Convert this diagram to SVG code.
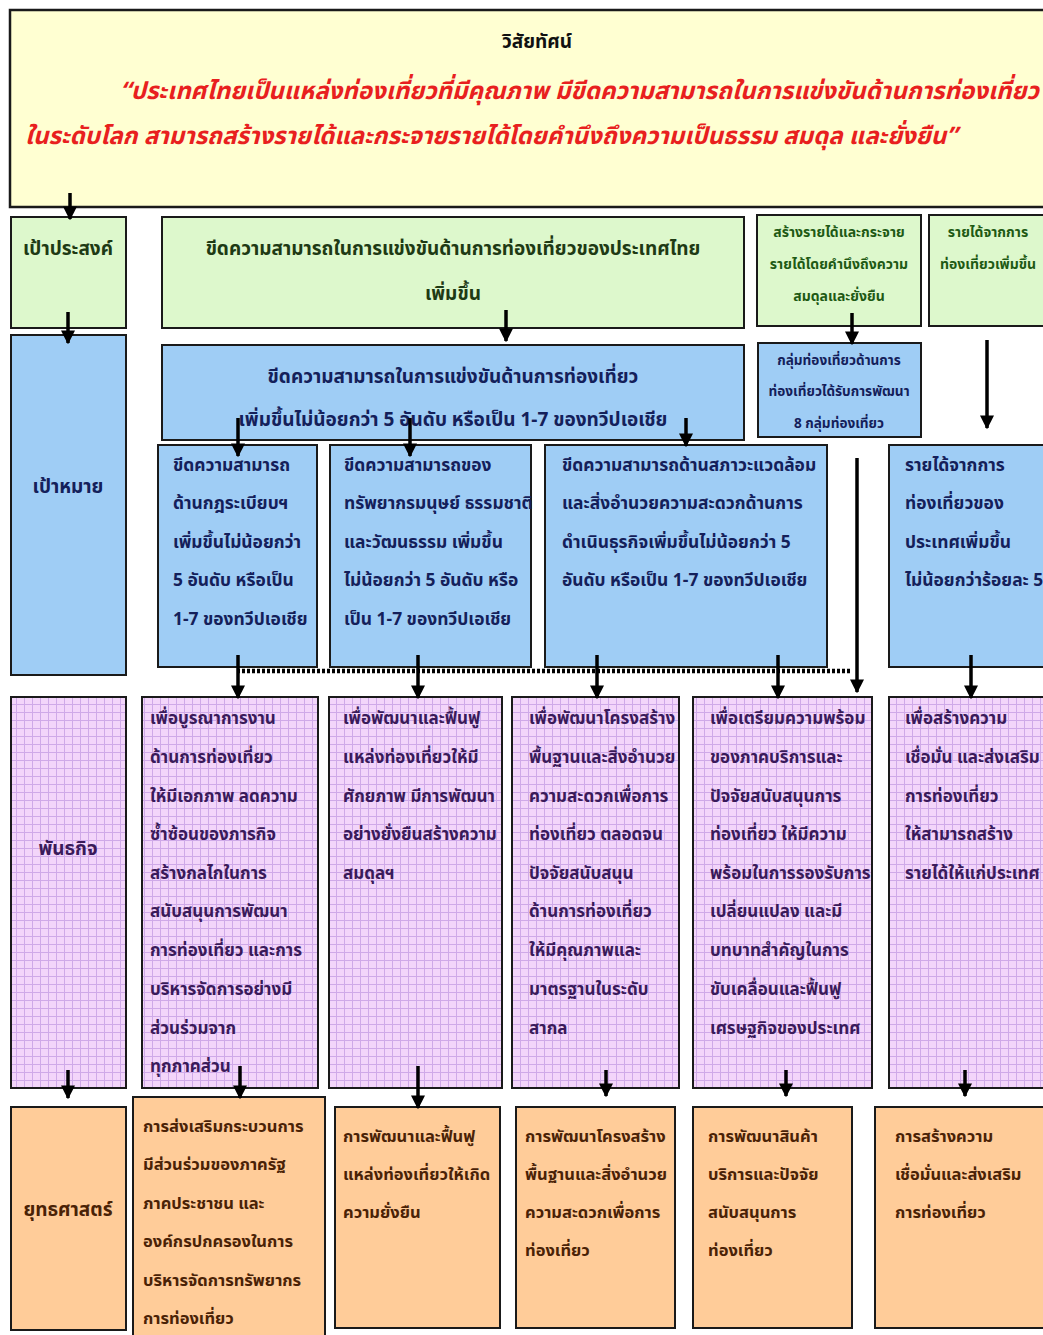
<svg xmlns="http://www.w3.org/2000/svg" width="1043" height="1335" viewBox="0 0 1043 1335">
<defs>
<pattern id="grid" width="8" height="8" patternUnits="userSpaceOnUse">
<rect width="8" height="8" fill="#F3D5FA"/>
<path d="M0 0.5H8M0.5 0V8" stroke="#CFA9E8" stroke-width="1" fill="none"/>
</pattern>
<marker id="ah" viewBox="0 0 10 10" refX="9" refY="5" markerWidth="4" markerHeight="4" orient="auto" markerUnits="strokeWidth">
<path d="M0 0L10 5L0 10z" fill="#000"/>
</marker>
</defs>
<style>
text{font-family:"Noto Sans Thai","Noto Sans","DejaVu Sans",sans-serif;font-weight:bold}
.box{stroke:#1a1a1a;stroke-width:2}
.y{fill:#FFFFD2}
.g{fill:#DDF8CC}
.b{fill:#9FCDF5}
.p{fill:url(#grid)}
.o{fill:#FFCC99}
.tg{fill:#1E3A14;font-size:19px}
.tgs{fill:#1E5A14;font-size:14px}
.tb{fill:#14205A;font-size:17.4px}
.tbs{fill:#14205A;font-size:13.6px}
.tp{fill:#3A1A5A;font-size:17px}
.to{fill:#4A2206;font-size:16.5px}
.vis{fill:#E8201E;font-size:24px;font-style:italic}
.arr{stroke:#000;stroke-width:3.5;fill:none;marker-end:url(#ah)}
.dash{stroke:#000;stroke-width:4.5;stroke-dasharray:3 2;fill:none}
</style>

<g id="vision">
<rect class="box y" x="10" y="10" width="1040" height="197" style="stroke-width:2.5"/>
<text x="537" y="48" text-anchor="middle" style="font-size:19px;fill:#111">วิสัยทัศน์</text>
<text class="vis" x="120" y="99">“ประเทศไทยเป็นแหล่งท่องเที่ยวที่มีคุณภาพ มีขีดความสามารถในการแข่งขันด้านการท่องเที่ยว</text>
<text class="vis" x="25" y="144">ในระดับโลก สามารถสร้างรายได้และกระจายรายได้โดยคำนึงถึงความเป็นธรรม สมดุล และยั่งยืน”</text>
</g>

<g id="goal-label">
<rect class="box g" x="11" y="217" width="115" height="111"/>
<text class="tg" x="68" y="255" text-anchor="middle">เป้าประสงค์</text>
</g>
<g id="goal-main">
<rect class="box g" x="162" y="217" width="582" height="111"/>
<text class="tg" x="453" y="255" text-anchor="middle">ขีดความสามารถในการแข่งขันด้านการท่องเที่ยวของประเทศไทย</text>
<text class="tg" x="453" y="300" text-anchor="middle">เพิ่มขึ้น</text>
</g>
<g id="goal-income">
<rect class="box g" x="757" y="215" width="164" height="111"/>
<text class="tgs" x="839" y="237" text-anchor="middle">สร้างรายได้และกระจาย</text>
<text class="tgs" x="839" y="269" text-anchor="middle">รายได้โดยคำนึงถึงความ</text>
<text class="tgs" x="839" y="301" text-anchor="middle">สมดุลและยั่งยืน</text>
</g>
<g id="goal-revenue">
<rect class="box g" x="929" y="215" width="120" height="111"/>
<text class="tgs" x="988" y="237" text-anchor="middle">รายได้จากการ</text>
<text class="tgs" x="988" y="269" text-anchor="middle">ท่องเที่ยวเพิ่มขึ้น</text>
</g>

<g id="target-label">
<rect class="box b" x="11" y="335" width="115" height="340"/>
<text class="tg" x="68" y="493" text-anchor="middle" style="fill:#14205A">เป้าหมาย</text>
</g>
<g id="target-main">
<rect class="box b" x="162" y="345" width="582" height="95"/>
<text class="tb" x="453" y="383" text-anchor="middle" style="font-size:19px">ขีดความสามารถในการแข่งขันด้านการท่องเที่ยว</text>
<text class="tb" x="453" y="426" text-anchor="middle" style="font-size:19px">เพิ่มขึ้นไม่น้อยกว่า 5 อันดับ หรือเป็น 1-7 ของทวีปเอเชีย</text>
</g>
<g id="target-groups">
<rect class="box b" x="758" y="343" width="163" height="94"/>
<text class="tbs" x="839" y="365" text-anchor="middle">กลุ่มท่องเที่ยวด้านการ</text>
<text class="tbs" x="839" y="396" text-anchor="middle">ท่องเที่ยวได้รับการพัฒนา</text>
<text class="tbs" x="839" y="428" text-anchor="middle">8 กลุ่มท่องเที่ยว</text>
</g>
<g id="target-1">
<rect class="box b" x="158" y="445" width="159" height="222"/>
<text class="tb" x="173" y="471">ขีดความสามารถ</text>
<text class="tb" x="173" y="509">ด้านกฎระเบียบฯ</text>
<text class="tb" x="173" y="548">เพิ่มขึ้นไม่น้อยกว่า</text>
<text class="tb" x="173" y="586">5 อันดับ หรือเป็น</text>
<text class="tb" x="173" y="625">1-7 ของทวีปเอเชีย</text>
</g>
<g id="target-2">
<rect class="box b" x="330" y="445" width="201" height="222"/>
<text class="tb" x="344" y="471">ขีดความสามารถของ</text>
<text class="tb" x="344" y="509">ทรัพยากรมนุษย์ ธรรมชาติ</text>
<text class="tb" x="344" y="548">และวัฒนธรรม เพิ่มขึ้น</text>
<text class="tb" x="344" y="586">ไม่น้อยกว่า 5 อันดับ หรือ</text>
<text class="tb" x="344" y="625">เป็น 1-7  ของทวีปเอเชีย</text>
</g>
<g id="target-3">
<rect class="box b" x="545" y="445" width="282" height="222"/>
<text class="tb" x="562" y="471">ขีดความสามารถด้านสภาวะแวดล้อม</text>
<text class="tb" x="562" y="509">และสิ่งอำนวยความสะดวกด้านการ</text>
<text class="tb" x="562" y="548">ดำเนินธุรกิจเพิ่มขึ้นไม่น้อยกว่า 5</text>
<text class="tb" x="562" y="586">อันดับ หรือเป็น 1-7 ของทวีปเอเชีย</text>
</g>
<g id="target-4">
<rect class="box b" x="889" y="445" width="160" height="222"/>
<text class="tb" x="905" y="471">รายได้จากการ</text>
<text class="tb" x="905" y="509">ท่องเที่ยวของ</text>
<text class="tb" x="905" y="548">ประเทศเพิ่มขึ้น</text>
<text class="tb" x="905" y="586">ไม่น้อยกว่าร้อยละ 5</text>
</g>

<g id="mission-label">
<rect class="box p" x="11" y="697" width="115" height="391"/>
<text class="tg" x="68" y="855" text-anchor="middle" style="fill:#3A1A5A">พันธกิจ</text>
</g>
<g id="mission-1">
<rect class="box p" x="142" y="697" width="176" height="391"/>
<text class="tp" x="150" y="724">เพื่อบูรณาการงาน</text>
<text class="tp" x="150" y="763">ด้านการท่องเที่ยว</text>
<text class="tp" x="150" y="802">ให้มีเอกภาพ ลดความ</text>
<text class="tp" x="150" y="840">ซ้ำซ้อนของภารกิจ</text>
<text class="tp" x="150" y="879">สร้างกลไกในการ</text>
<text class="tp" x="150" y="917">สนับสนุนการพัฒนา</text>
<text class="tp" x="150" y="956">การท่องเที่ยว และการ</text>
<text class="tp" x="150" y="995">บริหารจัดการอย่างมี</text>
<text class="tp" x="150" y="1034">ส่วนร่วมจาก</text>
<text class="tp" x="150" y="1072">ทุกภาคส่วน</text>
</g>
<g id="mission-2">
<rect class="box p" x="329" y="697" width="173" height="391"/>
<text class="tp" x="343" y="724">เพื่อพัฒนาและฟื้นฟู</text>
<text class="tp" x="343" y="763">แหล่งท่องเที่ยวให้มี</text>
<text class="tp" x="343" y="802">ศักยภาพ มีการพัฒนา</text>
<text class="tp" x="343" y="840">อย่างยั่งยืนสร้างความ</text>
<text class="tp" x="343" y="879">สมดุลฯ</text>
</g>
<g id="mission-3">
<rect class="box p" x="512" y="697" width="167" height="391"/>
<text class="tp" x="529" y="724">เพื่อพัฒนาโครงสร้าง</text>
<text class="tp" x="529" y="763">พื้นฐานและสิ่งอำนวย</text>
<text class="tp" x="529" y="802">ความสะดวกเพื่อการ</text>
<text class="tp" x="529" y="840">ท่องเที่ยว ตลอดจน</text>
<text class="tp" x="529" y="879">ปัจจัยสนับสนุน</text>
<text class="tp" x="529" y="917">ด้านการท่องเที่ยว</text>
<text class="tp" x="529" y="956">ให้มีคุณภาพและ</text>
<text class="tp" x="529" y="995">มาตรฐานในระดับ</text>
<text class="tp" x="529" y="1034">สากล</text>
</g>
<g id="mission-4">
<rect class="box p" x="693" y="697" width="179" height="391"/>
<text class="tp" x="710" y="724">เพื่อเตรียมความพร้อม</text>
<text class="tp" x="710" y="763">ของภาคบริการและ</text>
<text class="tp" x="710" y="802">ปัจจัยสนับสนุนการ</text>
<text class="tp" x="710" y="840">ท่องเที่ยว ให้มีความ</text>
<text class="tp" x="710" y="879">พร้อมในการรองรับการ</text>
<text class="tp" x="710" y="917">เปลี่ยนแปลง และมี</text>
<text class="tp" x="710" y="956">บทบาทสำคัญในการ</text>
<text class="tp" x="710" y="995">ขับเคลื่อนและฟื้นฟู</text>
<text class="tp" x="710" y="1034">เศรษฐกิจของประเทศ</text>
</g>
<g id="mission-5">
<rect class="box p" x="889" y="697" width="160" height="391"/>
<text class="tp" x="905" y="724">เพื่อสร้างความ</text>
<text class="tp" x="905" y="763">เชื่อมั่น และส่งเสริม</text>
<text class="tp" x="905" y="802">การท่องเที่ยว</text>
<text class="tp" x="905" y="840">ให้สามารถสร้าง</text>
<text class="tp" x="905" y="879">รายได้ให้แก่ประเทศ</text>
</g>

<g id="strategy-label">
<rect class="box o" x="11" y="1107" width="115" height="223"/>
<text class="tg" x="68" y="1216" text-anchor="middle" style="fill:#4A2206">ยุทธศาสตร์</text>
</g>
<g id="strategy-1">
<rect class="box o" x="133" y="1097" width="192" height="245"/>
<text class="to" x="143" y="1132">การส่งเสริมกระบวนการ</text>
<text class="to" x="143" y="1170">มีส่วนร่วมของภาครัฐ</text>
<text class="to" x="143" y="1209">ภาคประชาชน และ</text>
<text class="to" x="143" y="1247">องค์กรปกครองในการ</text>
<text class="to" x="143" y="1286">บริหารจัดการทรัพยากร</text>
<text class="to" x="143" y="1324">การท่องเที่ยว</text>
</g>
<g id="strategy-2">
<rect class="box o" x="335" y="1107" width="165" height="221"/>
<text class="to" x="343" y="1142">การพัฒนาและฟื้นฟู</text>
<text class="to" x="343" y="1180">แหล่งท่องเที่ยวให้เกิด</text>
<text class="to" x="343" y="1218">ความยั่งยืน</text>
</g>
<g id="strategy-3">
<rect class="box o" x="516" y="1107" width="159" height="221"/>
<text class="to" x="525" y="1142">การพัฒนาโครงสร้าง</text>
<text class="to" x="525" y="1180">พื้นฐานและสิ่งอำนวย</text>
<text class="to" x="525" y="1218">ความสะดวกเพื่อการ</text>
<text class="to" x="525" y="1256">ท่องเที่ยว</text>
</g>
<g id="strategy-4">
<rect class="box o" x="693" y="1107" width="159" height="221"/>
<text class="to" x="708" y="1142">การพัฒนาสินค้า</text>
<text class="to" x="708" y="1180">บริการและปัจจัย</text>
<text class="to" x="708" y="1218">สนับสนุนการ</text>
<text class="to" x="708" y="1256">ท่องเที่ยว</text>
</g>
<g id="strategy-5">
<rect class="box o" x="875" y="1107" width="174" height="221"/>
<text class="to" x="895" y="1142">การสร้างความ</text>
<text class="to" x="895" y="1180">เชื่อมั่นและส่งเสริม</text>
<text class="to" x="895" y="1218">การท่องเที่ยว</text>
</g>

<g id="connectors">
<path class="arr" d="M70 193V219"/>
<path class="arr" d="M68 312V343"/>
<path class="arr" d="M506 310V341"/>
<path class="arr" d="M852 313V344"/>
<path class="arr" d="M987 340V428"/>
<path class="arr" d="M238 418V456"/>
<path class="arr" d="M410 418V456"/>
<path class="arr" d="M686 418V446"/>
<path class="arr" d="M857 458V692"/>
<path class="dash" d="M237 671H852"/>
<path class="arr" d="M238 655V698"/>
<path class="arr" d="M418 655V698"/>
<path class="arr" d="M597 655V698"/>
<path class="arr" d="M778 655V698"/>
<path class="arr" d="M971 655V698"/>
<path class="arr" d="M68 1070V1098"/>
<path class="arr" d="M240 1066V1098"/>
<path class="arr" d="M418 1066V1108"/>
<path class="arr" d="M606 1070V1096"/>
<path class="arr" d="M786 1070V1096"/>
<path class="arr" d="M965 1070V1096"/>
</g>
</svg>
